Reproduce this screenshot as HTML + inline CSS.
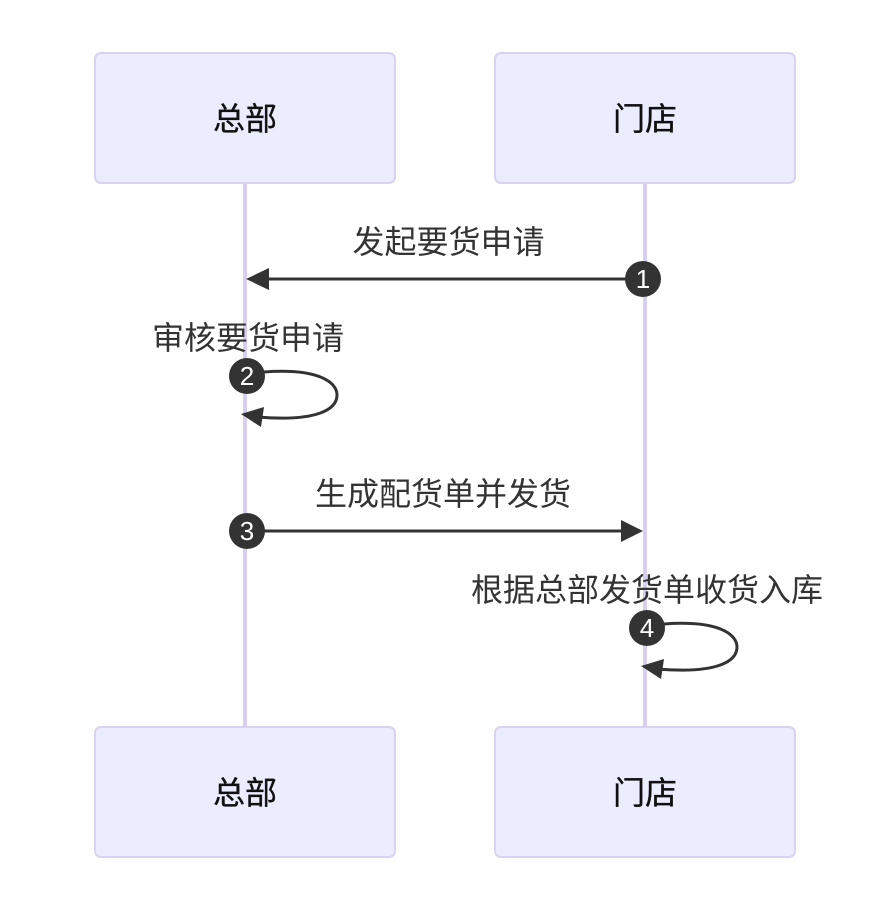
<!DOCTYPE html>
<html>
<head>
<meta charset="utf-8">
<style>
html,body{margin:0;padding:0;background:#fff;width:896px;height:906px;overflow:hidden}
svg{display:block}
text{font-family:"Liberation Sans","Noto Sans CJK SC",sans-serif}
.t{font-size:32px;fill:#111;text-anchor:middle;stroke:#111;stroke-width:.35px}
.m{font-size:32px;fill:#333;text-anchor:middle}
.n{font-size:26px;fill:#fff;text-anchor:middle}
</style>
</head>
<body>
<svg width="896" height="906" viewBox="0 0 896 906" xmlns="http://www.w3.org/2000/svg">
<g stroke="#d6cff0" stroke-width="4">
<line x1="245" y1="183" x2="245" y2="727"/>
<line x1="645" y1="183" x2="645" y2="727"/>
</g>
<g fill="#ececff" stroke="#d9d2f1" stroke-width="2">
<rect x="95" y="53" width="300" height="130" rx="6"/>
<rect x="495" y="53" width="300" height="130" rx="6"/>
<rect x="95" y="727" width="300" height="130" rx="6"/>
<rect x="495" y="727" width="300" height="130" rx="6"/>
</g>
<text class="t" x="245" y="130">总部</text>
<text class="t" x="645" y="130">门店</text>
<text class="t" x="245" y="804">总部</text>
<text class="t" x="645" y="804">门店</text>

<text class="m" x="448.500" y="253">发起要货申请</text>
<text class="m" x="248" y="349">审核要货申请</text>
<text class="m" x="443" y="505">生成配货单并发货</text>
<text class="m" x="647" y="601">根据总部发货单收货入库</text>

<g stroke="#333" stroke-width="3" fill="none">
<line x1="265" y1="279" x2="643" y2="279"/>
<line x1="247" y1="531" x2="625" y2="531"/>
<path d="M264 372 C318 368 337 382 337 395 C337 409 318 422 258 417"/>
<path d="M664 624 C718 620 737 634 737 647 C737 661 718 674 658 669"/>
</g>
<g fill="#333">
<polygon points="246,279 269,268 269,290"/>
<polygon points="643,531 621,520 621,542"/>
<polygon points="241,414 264,407 261,427"/>
<polygon points="641,666 664,659 661,679"/>
<circle cx="643" cy="279" r="18"/>
<circle cx="247" cy="376" r="18"/>
<circle cx="247" cy="531" r="18"/>
<circle cx="647" cy="628" r="18"/>
</g>
<text class="n" x="643" y="288">1</text>
<text class="n" x="247" y="385">2</text>
<text class="n" x="247" y="540">3</text>
<text class="n" x="647" y="637">4</text>
</svg>
</body>
</html>
